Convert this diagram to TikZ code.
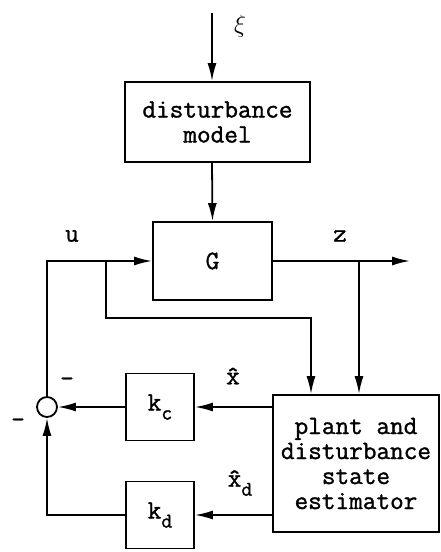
\documentclass[tikz,border=0pt]{standalone}
\usepackage{fontspec}
\newfontfamily\blkfont{Latin Modern Mono}[FakeBold=1.2]
\usetikzlibrary{arrows.meta}

\begin{document}
\begin{tikzpicture}[x=1pt,y=-1pt,line width=1.8pt,
  >={Latex[length=18pt,width=9pt]},
  every node/.style={font=\fontsize{26.5}{25}\blkfont},
  blk/.style={draw,align=center,inner sep=0pt}]
\useasboundingbox (0,0) rectangle (440,552);
\node[blk,minimum width=185pt,minimum height=80pt] (dm) at (217.5,122) {disturbance\\model};
\node[blk,minimum width=119pt,minimum height=78pt] (G) at (212.5,261) {G};
\node[blk,minimum width=166pt,minimum height=137pt] (est) at (356,463.5) {plant and\\disturbance\\state\\estimator};
\node[blk,minimum width=68pt,minimum height=67pt] (kc) at (160,407) {k\raisebox{-9pt}{\fontsize{21}{21}\selectfont c}};
\node[blk,minimum width=68pt,minimum height=67pt] (kd) at (160,515) {k\raisebox{-9pt}{\fontsize{21}{21}\selectfont d}};
\node[draw,circle,minimum size=20pt,inner sep=0pt] (sum) at (47,407) {};
\coordinate (xi) at (212,13);
\coordinate (ub) at (106,261);
\coordinate (zb) at (359,261);
\coordinate (zo) at (410,261);
% signals
\draw[->] (xi) -- (xi |- dm.north);
\draw[->] (xi |- dm.south) -- (G.north);
\draw[->] (sum.north) |- (G.west);
\draw[->] (ub) -- ++(0,57) -| ([xshift=-45pt]est.north);
\draw[->] (G.east) -- (zo);
\draw[->] (zb) -- (zb |- est.north);
\draw[->] (est.west |- kc.east) -- (kc.east);
\draw[->] (est.west |- kd.east) -- (kd.east);
\draw[->] (kc.west) -- (sum.east);
\draw[->] (kd.west) -| (sum.south);
% labels
\node (xil) at (240,26) {\fontsize{31}{31}\selectfont$\xi$};
\node (ul) at (72,236) {u};
\node (zl) at (340,236) {z};
\node (xhl) at (233,376) {\^x};
\node (xdl) at (240,483) {\^x\raisebox{-9pt}{\fontsize{21}{21}\selectfont d}};
\node (m1) at (67,382) {-};
\node (m2) at (18,423) {-};
\end{tikzpicture}
\end{document}
